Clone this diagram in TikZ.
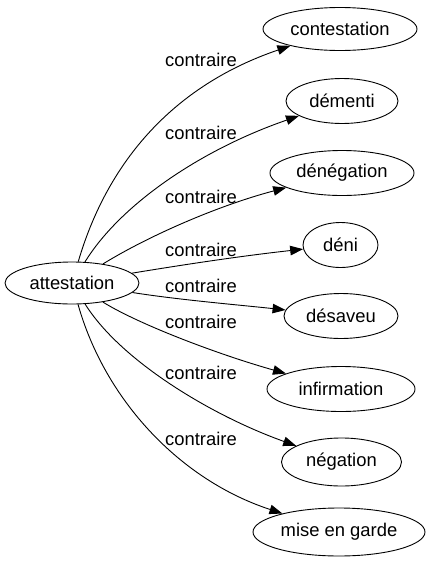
\documentclass[tikz,border=0pt]{standalone}
\usepackage{fontspec}
\setmainfont{Liberation Sans}
\usetikzlibrary{shapes.geometric,arrows.meta}
\begin{document}
\begin{tikzpicture}[x=1pt,y=-1pt,
  word/.style={draw,ellipse,line width=0.9pt,inner sep=0pt,minimum height=45pt,font=\fontsize{18.4}{20}\selectfont},
  lbl/.style={inner sep=0pt,font=\fontsize{18.4}{20}\selectfont},
  edge/.style={line width=0.9pt,-{Triangle[length=13pt,width=9.5pt]}}]
\useasboundingbox (0,0) rectangle (433,563);
\node[word,minimum width=134pt,minimum height=42pt] (att) at (72,283) {attestation};
\node[word,minimum width=154pt,minimum height=43pt] (n1) at (340,29) {contestation};
\node[word,minimum width=112pt] (n2) at (342,101) {démenti};
\node[word,minimum width=144pt] (n3) at (342,173) {dénégation};
\node[word,minimum width=75pt] (n4) at (340.5,245) {déni};
\node[word,minimum width=114pt] (n5) at (341,316) {désaveu};
\node[word,minimum width=148pt] (n6) at (341,389) {infirmation};
\node[word,minimum width=120pt,minimum height=48pt] (n7) at (341.5,462) {négation};
\node[word,minimum width=172pt,minimum height=48pt] (n8) at (339,532) {mise en garde};
\node[lbl] (l1) at (201,60) {contraire};
\node[lbl] (l2) at (201,133) {contraire};
\node[lbl] (l3) at (201,197) {contraire};
\node[lbl] (l4) at (201,250) {contraire};
\node[lbl] (l5) at (201,286) {contraire};
\node[lbl] (l6) at (201,322) {contraire};
\node[lbl] (l7) at (201,373) {contraire};
\node[lbl] (l8) at (201,439) {contraire};
\draw[edge] (att) .. controls (108,160) and (175,85) .. (n1);
\draw[edge] (att) .. controls (120,205) and (200,150) .. (n2);
\draw[edge] (att) .. controls (150,235) and (220,205) .. (n3);
\draw[edge] (att) .. controls (200,262) and (250,255) .. (n4);
\draw[edge] (att) .. controls (180,300) and (240,305) .. (n5);
\draw[edge] (att) .. controls (140,325) and (220,355) .. (n6);
\draw[edge] (att) .. controls (120,360) and (210,415) .. (n7);
\draw[edge] (att) .. controls (105,400) and (180,480) .. (n8);
\end{tikzpicture}
\end{document}
